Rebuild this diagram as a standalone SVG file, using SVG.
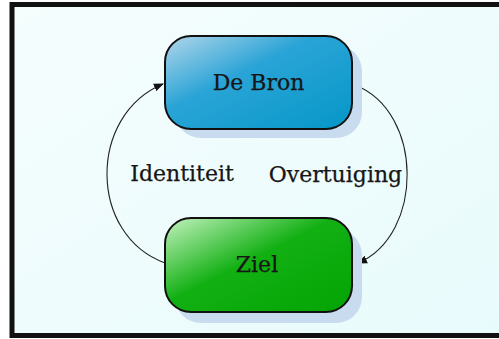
<svg xmlns="http://www.w3.org/2000/svg" width="499" height="339" viewBox="0 0 499 339">
<defs>
<linearGradient id="bg" x1="0" y1="0" x2="1" y2="1">
<stop offset="0" stop-color="#f5fdfd"/>
<stop offset="1" stop-color="#e8fbfc"/>
</linearGradient>
<linearGradient id="blue" x1="0" y1="0" x2="1" y2="1">
<stop offset="0" stop-color="#b3d6ea"/>
<stop offset="0.4" stop-color="#2aa4d6"/>
<stop offset="1" stop-color="#0597c8"/>
</linearGradient>
<linearGradient id="green" x1="0" y1="0" x2="1" y2="1">
<stop offset="0" stop-color="#c4f3bf"/>
<stop offset="0.45" stop-color="#13b014"/>
<stop offset="1" stop-color="#02a402"/>
</linearGradient>
<marker id="arr" viewBox="0 0 10 10" refX="9" refY="5" markerWidth="10" markerHeight="10" markerUnits="userSpaceOnUse" orient="auto">
<path d="M0,1 L10,5 L0,9 Z" fill="#111"/>
</marker>
<style>
.shadow{fill:#c9dcef}
.box{stroke:#111;stroke-width:2}
.lbl{font-family:"DejaVu Serif","Liberation Serif",serif;font-size:22px;fill:#161616;stroke:#161616;stroke-width:0.25;text-anchor:middle}
.conn{fill:none;stroke:#222;stroke-width:1.1}
</style>
</defs>
<rect x="0" y="0" width="499" height="339" fill="#ffffff"/>
<rect x="12" y="4.5" width="500" height="331" fill="url(#bg)" stroke="#111" stroke-width="5"/>
<g id="connectors">
<path class="conn" d="M165,263 C88,235 88,115 163,84" marker-end="url(#arr)"/>
<path class="conn" d="M355,85 C424,112 424,235 358,263" marker-end="url(#arr)"/>
</g>
<g id="node-debron">
<rect class="shadow" x="175" y="45" width="187" height="93" rx="26"/>
<rect class="box" x="165" y="36" width="187" height="93" rx="26" fill="url(#blue)"/>
<text class="lbl" x="258.5" y="90">De Bron</text>
</g>
<g id="node-ziel">
<rect class="shadow" x="175" y="229" width="187" height="94" rx="26"/>
<rect class="box" x="165" y="218" width="187" height="94" rx="26" fill="url(#green)"/>
<text class="lbl" x="257" y="272">Ziel</text>
</g>
<g id="labels">
<text class="lbl" x="182" y="181">Identiteit</text>
<text class="lbl" x="335.5" y="182">Overtuiging</text>
</g>
</svg>
